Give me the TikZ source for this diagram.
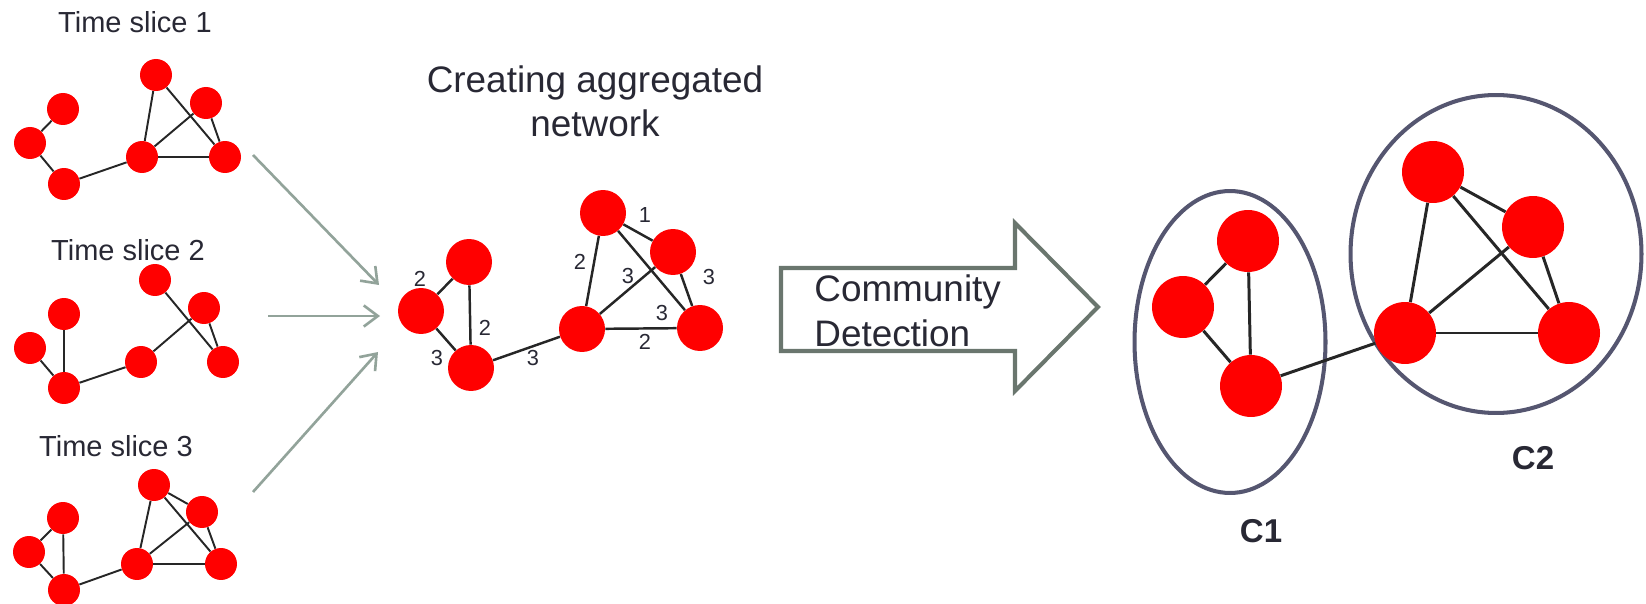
\documentclass[tikz,border=0pt]{standalone}
\usepackage{fontspec}
\setmainfont{Liberation Sans}
\usepackage{tikz}
\usetikzlibrary{shapes.geometric, arrows.meta, positioning}
\definecolor{nodered}{RGB}{255, 0, 0}
\definecolor{inkdark}{RGB}{40, 40, 52}
\definecolor{feedgray}{RGB}{146, 163, 154}
\definecolor{blockgray}{RGB}{106, 118, 110}
\definecolor{ringgray}{RGB}{85, 86, 112}

\begin{document}
\begin{tikzpicture}[
    x=0.02cm, y=-0.02cm,
    vsmall/.style={circle, fill=nodered, inner sep=0pt, minimum size=0.64cm},
    vmid/.style={circle, fill=nodered, inner sep=0pt, minimum size=0.92cm},
    vbig/.style={circle, fill=nodered, inner sep=0pt, minimum size=1.24cm},
    link/.style={line width=1.1pt, black!85},
    aglink/.style={line width=1.4pt, black!85},
    biglink/.style={line width=1.7pt, black!85},
    wt/.style={text=inkdark, inner sep=0pt, font=\fontsize{12.4}{14}\selectfont},
    heading/.style={text=inkdark, inner sep=0pt, font=\fontsize{16.5}{20}\selectfont},
    feed/.style={line width=1.5pt, feedgray, -{Straight Barb[length=8pt, width=12pt]}},
    ring/.style={ellipse, draw=ringgray, line width=2.3pt, inner sep=0pt}
]
    \useasboundingbox (0,0) rectangle (1646,604);

    % Time slice 1
    \node[heading, anchor=base] (slice1) at (135,33) {Time slice 1};
    \node[vsmall] (s1a) at (63,109) {};
    \node[vsmall] (s1b) at (30,143) {};
    \node[vsmall] (s1c) at (64,184) {};
    \node[vsmall] (s1d) at (142,157) {};
    \node[vsmall] (s1e) at (156,75) {};
    \node[vsmall] (s1f) at (206,103) {};
    \node[vsmall] (s1g) at (225,157) {};
    \draw[link] (s1a) -- (s1b);
    \draw[link] (s1b) -- (s1c);
    \draw[link] (s1c) -- (s1d);
    \draw[link] (s1d) -- (s1e);
    \draw[link] (s1e) -- (s1g);
    \draw[link] (s1d) -- (s1f);
    \draw[link] (s1f) -- (s1g);
    \draw[link] (s1d) -- (s1g);

    % Time slice 2
    \node[heading, anchor=base] (slice2) at (128,261) {Time slice 2};
    \node[vsmall] (s2a) at (64,314) {};
    \node[vsmall] (s2b) at (30,348) {};
    \node[vsmall] (s2c) at (64,388) {};
    \node[vsmall] (s2d) at (141,362) {};
    \node[vsmall] (s2e) at (155,280) {};
    \node[vsmall] (s2f) at (204,308) {};
    \node[vsmall] (s2g) at (223,362) {};
    \draw[link] (s2a) -- (s2c);
    \draw[link] (s2b) -- (s2c);
    \draw[link] (s2c) -- (s2d);
    \draw[link] (s2d) -- (s2f);
    \draw[link] (s2e) -- (s2g);
    \draw[link] (s2f) -- (s2g);

    % Time slice 3
    \node[heading, anchor=base] (slice3) at (116,456) {Time slice 3};
    \node[vsmall] (s3a) at (63,518) {};
    \node[vsmall] (s3b) at (29,552) {};
    \node[vsmall] (s3c) at (64,590) {};
    \node[vsmall] (s3d) at (137,564) {};
    \node[vsmall] (s3e) at (154,485) {};
    \node[vsmall] (s3f) at (202,512) {};
    \node[vsmall] (s3g) at (221,564) {};
    \draw[link] (s3a) -- (s3b);
    \draw[link] (s3a) -- (s3c);
    \draw[link] (s3b) -- (s3c);
    \draw[link] (s3c) -- (s3d);
    \draw[link] (s3d) -- (s3e);
    \draw[link] (s3e) -- (s3f);
    \draw[link] (s3e) -- (s3g);
    \draw[link] (s3d) -- (s3f);
    \draw[link] (s3f) -- (s3g);
    \draw[link] (s3d) -- (s3g);

    % Feeding arrows
    \coordinate (f1s) at (253,155);
    \coordinate (f1e) at (379,285);
    \coordinate (f2s) at (268,316);
    \coordinate (f2e) at (380,316);
    \coordinate (f3s) at (253,492);
    \coordinate (f3e) at (378,352);
    \draw[feed] (f1s) -- (f1e);
    \draw[feed] (f2s) -- (f2e);
    \draw[feed] (f3s) -- (f3e);

    % Aggregated network
    \node[text=inkdark, inner sep=0pt, align=center,
        font=\fontsize{21}{25}\selectfont] (aggtitle) at (595,101)
        {Creating aggregated\\network};
    \node[vmid] (aga) at (421,311) {};
    \node[vmid] (agb) at (469,262) {};
    \node[vmid] (agc) at (471,368) {};
    \node[vmid] (agd) at (582,329) {};
    \node[vmid] (age) at (603,213) {};
    \node[vmid] (agf) at (673,252) {};
    \node[vmid] (agg) at (700,328) {};
    \draw[aglink] (aga) -- (agb);
    \draw[aglink] (aga) -- (agc);
    \draw[aglink] (agb) -- (agc);
    \draw[aglink] (agc) -- (agd);
    \draw[aglink] (agd) -- (age);
    \draw[aglink] (age) -- (agf);
    \draw[aglink] (age) -- (agg);
    \draw[aglink] (agd) -- (agf);
    \draw[aglink] (agf) -- (agg);
    \draw[aglink] (agd) -- (agg);
    \node[wt] (wab) at (420,279) {2};
    \node[wt] (wbc) at (485,328) {2};
    \node[wt] (wac) at (437,358) {3};
    \node[wt] (wcd) at (533,358) {3};
    \node[wt] (wde) at (580,262) {2};
    \node[wt] (wef) at (645,215) {1};
    \node[wt] (wdf) at (628,276) {3};
    \node[wt] (wfg) at (709,277) {3};
    \node[wt] (weg) at (662,313) {3};
    \node[wt] (wdg) at (645,342) {2};

    % Community detection arrow
    \draw[blockgray, line width=2.3pt, line join=miter]
        (781,268) -- (1015,268) -- (1015,223) -- (1098,307)
        -- (1015,391) -- (1015,351) -- (781,351) -- cycle;
    \node[text=inkdark, inner sep=0pt, align=left, anchor=west,
        font=\fontsize{21}{25.6}\selectfont] (cdtext) at (814,311)
        {Community\\Detection};

    % Communities
    \node[ring, minimum width=3.82cm, minimum height=6.04cm] (c1ring) at (1230,342) {};
    \node[ring, minimum width=5.82cm, minimum height=6.36cm] (c2ring) at (1496,254) {};
    \node[vbig] (c1a) at (1248,241) {};
    \node[vbig] (c1b) at (1183,307) {};
    \node[vbig] (c1c) at (1251,386) {};
    \node[vbig] (c2a) at (1433,172) {};
    \node[vbig] (c2b) at (1533,227) {};
    \node[vbig] (c2c) at (1405,333) {};
    \node[vbig] (c2d) at (1569,333) {};
    \draw[biglink] (c1a) -- (c1b);
    \draw[biglink] (c1a) -- (c1c);
    \draw[biglink] (c1b) -- (c1c);
    \draw[biglink] (c1c) -- (c2c);
    \draw[biglink] (c2a) -- (c2b);
    \draw[biglink] (c2a) -- (c2c);
    \draw[biglink] (c2a) -- (c2d);
    \draw[biglink] (c2b) -- (c2c);
    \draw[biglink] (c2b) -- (c2d);
    \draw[biglink] (c2c) -- (c2d);
    \node[text=inkdark, inner sep=0pt, anchor=base,
        font=\bfseries\fontsize{18.8}{22}\selectfont] (c1lab) at (1261,542) {C1};
    \node[text=inkdark, inner sep=0pt, anchor=base,
        font=\bfseries\fontsize{18.8}{22}\selectfont] (c2lab) at (1533,469) {C2};
\end{tikzpicture}
\end{document}
